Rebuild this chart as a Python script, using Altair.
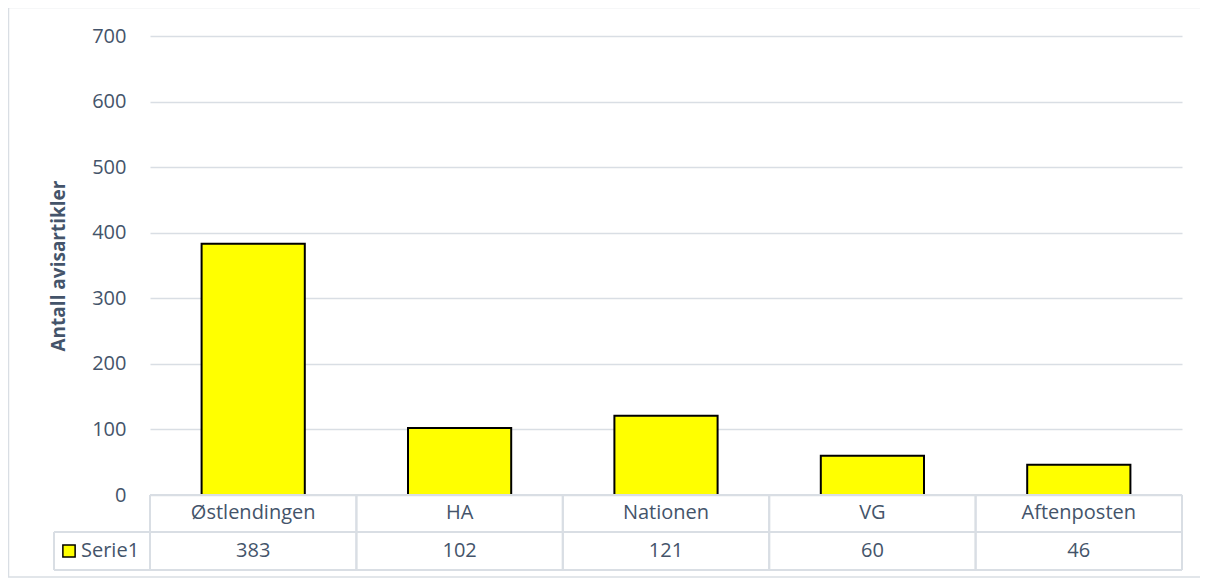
import altair as alt
import pandas as pd

categories = ["Østlendingen", "HA", "Nationen", "VG", "Aftenposten"]
values = [383, 102, 121, 60, 46]
series_name = "Serie1"
y_title = "Antall avisartikler"
y_ticks = [0, 100, 200, 300, 400, 500, 600, 700]

df = pd.DataFrame({"cat": categories, "val": values})

W, H = 1032, 459
TXT = "#44546A"
GRID = "#D9DEE4"
FONT = "Open Sans"

xs = alt.Scale(domain=categories, paddingInner=0.5, paddingOuter=0.25)
xt = alt.Scale(domain=categories, paddingInner=0, paddingOuter=0)
ys = alt.Scale(domain=[0, 700], nice=False)

base = alt.Chart(df)

bars = base.mark_bar(fill="#FFFF00", stroke="#000000", strokeWidth=2).encode(
    x=alt.X("cat:N", scale=xs, sort=categories, axis=None),
    y=alt.Y(
        "val:Q",
        scale=ys,
        axis=alt.Axis(
            values=y_ticks,
            title=y_title,
            grid=True,
            gridColor=GRID,
            gridWidth=1.3,
            domain=False,
            ticks=False,
            labelFont=FONT,
            labelFontSize=20,
            labelColor=TXT,
            labelPadding=24,
            titleFont=FONT,
            titleFontSize=19,
            titleFontWeight="bold",
            titleColor=TXT,
            titleAngle=-90,
            titleX=-92,
            titleY=H / 2,
            titleAlign="center",
            titleBaseline="middle",
        ),
    ),
)

# data table below the plot (own band scale without padding)
hdr = base.mark_text(font=FONT, fontSize=20, color=TXT, baseline="middle").encode(
    x=alt.X("cat:N", scale=xt, sort=categories, axis=None),
    y=alt.value(H + 18),
    text="cat:N",
)
vals = base.mark_text(font=FONT, fontSize=20, color=TXT, baseline="middle").encode(
    x=alt.X("cat:N", scale=xt, sort=categories, axis=None),
    y=alt.value(H + 56),
    text="val:Q",
)
vlines_l = base.mark_rule(color=GRID, strokeWidth=2).encode(
    x=alt.X("cat:N", scale=xt, sort=categories, bandPosition=0, axis=None),
    y=alt.value(H),
    y2=alt.value(H + 75),
)
vlines_r = base.mark_rule(color=GRID, strokeWidth=2).encode(
    x=alt.X("cat:N", scale=xt, sort=categories, bandPosition=1, axis=None),
    y=alt.value(H),
    y2=alt.value(H + 75),
)
table = alt.layer(hdr, vals, vlines_l, vlines_r)

lines_df = pd.DataFrame({"k": [0]})
lb = alt.Chart(lines_df)
hline1 = lb.mark_rule(color=GRID, strokeWidth=2).encode(
    x=alt.value(0), x2=alt.value(W), y=alt.value(H)
)
hline2 = lb.mark_rule(color=GRID, strokeWidth=2).encode(
    x=alt.value(-96), x2=alt.value(W), y=alt.value(H + 37)
)
hline3 = lb.mark_rule(color=GRID, strokeWidth=2).encode(
    x=alt.value(-96), x2=alt.value(W), y=alt.value(H + 75)
)
vleg = lb.mark_rule(color=GRID, strokeWidth=2).encode(
    x=alt.value(-96), y=alt.value(H + 37), y2=alt.value(H + 75)
)
leg_sq = lb.mark_square(fill="#FFFF00", stroke="#000000", strokeWidth=1.5, opacity=1, size=150).encode(
    x=alt.value(-81), y=alt.value(H + 56)
)
leg_txt = lb.mark_text(font=FONT, fontSize=20, color=TXT, align="left", baseline="middle").encode(
    x=alt.value(-69), y=alt.value(H + 56), text=alt.value(series_name)
)
border = lb.mark_rect(fill=None, stroke=GRID, strokeWidth=1.5).encode(
    x=alt.value(-141.5), x2=alt.value(W + 30), y=alt.value(-28.5), y2=alt.value(H + 82)
)

chart = alt.layer(
    bars, table, hline1, hline2, hline3, vleg, leg_sq, leg_txt, border
).resolve_scale(x="independent").properties(
    width=W,
    height=H,
    background="white",
    autosize=alt.AutoSizeParams(type="none"),
    padding={"left": 142, "top": 28, "right": 18, "bottom": 83},
).configure_view(stroke=None, strokeWidth=0)

chart.save("out.html", embed_options={"renderer": "svg", "actions": False})
